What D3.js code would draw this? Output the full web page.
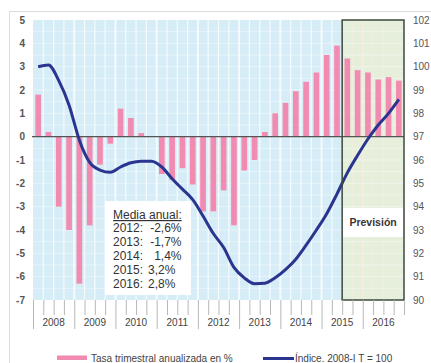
<!DOCTYPE html>
<html>
<head>
<meta charset="utf-8">
<script src="https://cdn.jsdelivr.net/npm/d3@7"></script>
<style>
  html, body { margin: 0; padding: 0; background: #fff; }
  svg { display: block; font-family: "Liberation Sans", Arial, sans-serif; }
</style>
</head>
<body>
<svg id="chart" width="431" height="363"></svg>
<script>
// Years shown on the horizontal axis; each holds four quarters
const years = [2008, 2009, 2010, 2011, 2012, 2013, 2014, 2015, 2016];
const quarterNames = ["I", "II", "III", "IV"];

// Quarterly GDP growth, annualized rate (%), 2008-I .. 2016-IV
const rate = [
  1.8, 0.2, -3.0, -4.0,
  -6.3, -3.8, -1.2, -0.3,
  1.2, 0.8, 0.15, 0.0,
  -1.6, -1.85, -1.35, -2.05,
  -3.2, -3.2, -2.3, -3.8,
  -1.45, -1.0, 0.2, 1.0,
  1.45, 1.95, 2.35, 2.75,
  3.5, 3.9, 3.35, 2.85,
  2.75, 2.45, 2.55, 2.4
];

// GDP volume index, 2008-I = 100
const index = [
  100.0, 100.07, 99.4, 98.35,
  96.85, 95.9, 95.57, 95.47,
  95.7, 95.88, 95.95, 95.95,
  95.7, 95.2, 94.75, 94.3,
  93.6, 92.85, 92.25, 91.4,
  90.95, 90.7, 90.72, 90.95,
  91.3, 91.75, 92.35, 93.0,
  93.7, 94.55, 95.45, 96.2,
  96.9, 97.5, 98.0, 98.6
];

// Annual averages listed in the note
const meanYears = [2012, 2013, 2014, 2015, 2016];
const meanValues = [-2.6, -1.7, 1.4, 3.2, 2.8];

// Tick values for both vertical axes
const leftTicks = d3.range(-7, 6);
const rightTicks = d3.range(90, 103);

// First forecast quarter
const forecastStart = "2015-III";

const quarters = years.flatMap(y => quarterNames.map(q => `${y}-${q}`));
const rows = quarters.map((q, i) => ({ q, rate: rate[i], index: index[i] }));

const svg = d3.select("#chart");
const plot = { left: 33, right: 404, top: 20, bottom: 300 };

const x = d3.scaleBand().domain(quarters)
  .range([plot.left, plot.right]).paddingInner(0.45).paddingOuter(0.225);
const xi = d3.scaleLinear().domain([0, quarters.length]).range([plot.left, plot.right]);
const xYear = d3.scaleBand().domain(years).range([plot.left, plot.right]);
const yL = d3.scaleLinear().domain([-7, 5]).range([plot.bottom, plot.top]);
const yR = d3.scaleLinear().domain([90, 102]).range([plot.bottom, plot.top]);

const fIdx = quarters.indexOf(forecastStart);
const fx0 = xi(fIdx), fx1 = xi(quarters.length);

// light frame around the figure
svg.append("path")
  .attr("d", "M9.5,363 V11.5 H431")
  .attr("fill", "none").attr("stroke", "#dcdcdc").attr("stroke-width", 1);

// plot background
svg.append("rect")
  .attr("x", plot.left).attr("y", plot.top)
  .attr("width", plot.right - plot.left).attr("height", plot.bottom - plot.top)
  .attr("fill", "#d6edf7");
svg.append("rect")
  .attr("x", fx0).attr("y", plot.top)
  .attr("width", fx1 - fx0).attr("height", plot.bottom - plot.top)
  .attr("fill", "#e5efdc");

// white grid lines: one per quarter boundary, heavier at year boundaries
const grid = svg.append("g");
grid.selectAll("line.v").data(d3.range(1, quarters.length)).join("line")
  .attr("x1", d => xi(d)).attr("x2", d => xi(d))
  .attr("y1", plot.top).attr("y2", plot.bottom)
  .attr("stroke", d => d >= fIdx ? "#f4eedc" : "#ffffff")
  .attr("stroke-opacity", 0.75)
  .attr("stroke-width", d => d % 4 === 0 ? 2 : 1.2);
grid.selectAll("line.h").data(d3.range(-6.5, 5, 0.5)).join("line")
  .attr("x1", plot.left).attr("x2", plot.right)
  .attr("y1", d => yL(d)).attr("y2", d => yL(d))
  .attr("stroke", "#ffffff").attr("stroke-opacity", 0.4).attr("stroke-width", 1);

// bars: annualized quarterly rate
svg.append("g").selectAll("rect").data(rows).join("rect")
  .attr("x", d => x(d.q))
  .attr("width", x.bandwidth())
  .attr("y", d => yL(Math.max(0, d.rate)))
  .attr("height", d => Math.abs(yL(d.rate) - yL(0)))
  .attr("fill", "#f28bb1");

// zero line
svg.append("line")
  .attr("x1", plot.left - 1).attr("x2", plot.right)
  .attr("y1", yL(0)).attr("y2", yL(0))
  .attr("stroke", "#555").attr("stroke-width", 1.3);

// index line on the right scale
const line = d3.line()
  .x(d => x(d.q) + x.bandwidth() / 2)
  .y(d => yR(d.index))
  .curve(d3.curveMonotoneX);
svg.append("path").datum(rows)
  .attr("d", line)
  .attr("fill", "none").attr("stroke", "#2a3590")
  .attr("stroke-width", 3).attr("stroke-linejoin", "round");

// forecast box
svg.append("rect")
  .attr("x", fx0).attr("y", plot.top)
  .attr("width", fx1 - fx0).attr("height", plot.bottom - plot.top)
  .attr("fill", "none").attr("stroke", "#3d4a3d").attr("stroke-width", 1.5);
svg.append("rect")
  .attr("x", fx0 + 1).attr("y", 208)
  .attr("width", fx1 - fx0 - 2).attr("height", 29)
  .attr("fill", "#fff");
svg.append("text")
  .attr("x", (fx0 + fx1) / 2).attr("y", 226)
  .attr("text-anchor", "middle")
  .attr("font-size", 10.5).attr("font-weight", "bold").attr("fill", "#3a3535")
  .text("Previsión");

// annual averages note
const fmt = d3.formatLocale({ decimal: ",", thousands: ".", grouping: [3], currency: ["", "€"] }).format(".1f");
const note = svg.append("g");
note.append("rect")
  .attr("x", 105).attr("y", 201).attr("width", 86).attr("height", 94)
  .attr("fill", "#fff");
note.append("text")
  .attr("x", 113).attr("y", 219)
  .attr("font-size", 12).attr("fill", "#333")
  .attr("text-decoration", "underline")
  .text("Media anual:");
meanYears.forEach((yr, i) => {
  const ty = 232 + i * 13.9;
  note.append("text").attr("x", 113).attr("y", ty)
    .attr("font-size", 12).attr("fill", "#333").text(`${yr}:`);
  note.append("text")
    .attr("x", i < 3 ? 181.5 : 148).attr("y", ty)
    .attr("text-anchor", i < 3 ? "end" : "start")
    .attr("font-size", 12).attr("fill", "#333")
    .text(`${fmt(meanValues[i]).replace("−", "-")}%`);
});

// left axis
const axL = svg.append("g").attr("transform", `translate(${plot.left},0)`)
  .call(d3.axisLeft(yL).tickValues(leftTicks).tickSize(0).tickPadding(8).tickFormat(d3.format("d")));
axL.select(".domain").remove();
axL.selectAll("text").attr("font-size", 10).attr("font-weight", "bold").attr("fill", "#555")
  .attr("font-family", "Liberation Sans, Arial, sans-serif")
  .text(d => String(d));

// right axis
const axR = svg.append("g").attr("transform", `translate(${plot.right},0)`)
  .call(d3.axisRight(yR).tickValues(rightTicks).tickSize(0).tickPadding(9).tickFormat(d3.format("d")));
axR.select(".domain").remove();
axR.selectAll("text").attr("font-size", 10).attr("fill", "#555")
  .attr("font-family", "Liberation Sans, Arial, sans-serif");

// quarter ticks, longer at year boundaries
const axQ = svg.append("g").attr("transform", `translate(0,${plot.bottom})`)
  .call(d3.axisBottom(xi).tickValues(d3.range(0, quarters.length + 1)).tickSize(15).tickFormat(""));
axQ.select(".domain").remove();
axQ.selectAll(".tick line")
  .attr("stroke", "#b8b8b8").attr("stroke-width", 1)
  .attr("y2", d => d % 4 === 0 && d < quarters.length ? 29 : 15);

// year labels
const axY = svg.append("g").attr("transform", `translate(0,${plot.bottom})`)
  .call(d3.axisBottom(xYear).tickSize(0).tickPadding(19));
axY.select(".domain").remove();
axY.selectAll("text").attr("font-size", 10).attr("fill", "#444")
  .attr("font-family", "Liberation Sans, Arial, sans-serif");

// legend
const lg = svg.append("g");
lg.append("rect").attr("x", 57).attr("y", 355.5).attr("width", 30).attr("height", 4.5).attr("fill", "#f28bb1");
lg.append("text").attr("x", 91).attr("y", 362).attr("font-size", 10).attr("fill", "#444")
  .text("Tasa trimestral anualizada en %");
lg.append("line").attr("x1", 263).attr("x2", 294).attr("y1", 358.5).attr("y2", 358.5)
  .attr("stroke", "#2a3590").attr("stroke-width", 3);
lg.append("text").attr("x", 295).attr("y", 362).attr("font-size", 10).attr("fill", "#444")
  .text("Índice. 2008-I T = 100");
</script>
</body>
</html>
